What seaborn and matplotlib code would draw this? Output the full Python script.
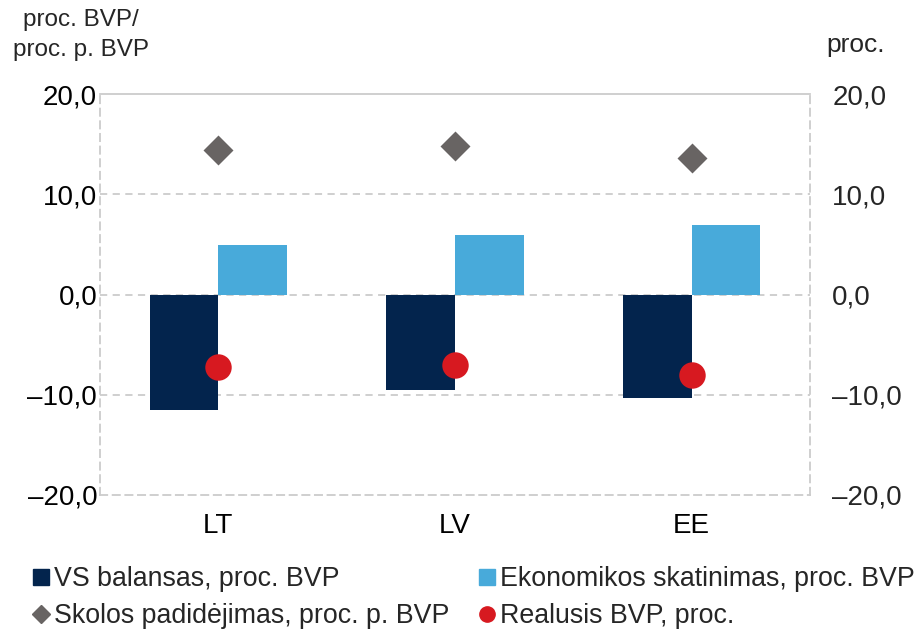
import numpy as np
import pandas as pd
import matplotlib
matplotlib.use("Agg")
import matplotlib.pyplot as plt
import seaborn as sns
from matplotlib.lines import Line2D

# ---- data ----
countries = ["LT", "LV", "EE"]
vs_balansas = [-11.5, -9.5, -10.3]
skatinimas = [4.9, 5.9, 6.9]
skola = [14.4, 14.8, 13.6]
bvp = [-7.2, -7.0, -8.0]
yticks = [-20, -10, 0, 10, 20]
ytick_labels = ["–20,0", "–10,0", "0,0", "10,0", "20,0"]
series_names = ["VS balansas, proc. BVP", "Ekonomikos skatinimas, proc. BVP",
                "Skolos padidėjimas, proc. p. BVP", "Realusis BVP, proc."]
left_label = "proc. BVP/\nproc. p. BVP"
right_label = "proc."

NAVY = "#03244D"
BLUE = "#48AADA"
GREY = "#686463"
RED = "#D71920"
GRID = "#CCCCCC"

sns.set_style("white")
plt.rcParams["font.family"] = ["Liberation Sans", "DejaVu Sans"]
FS = 20

df_bars = pd.DataFrame({
    "country": countries * 2,
    "value": vs_balansas + skatinimas,
    "series": [series_names[0]] * 3 + [series_names[1]] * 3,
})

fig = plt.figure(figsize=(9.14, 6.34), dpi=100)
ax = fig.add_axes([100 / 914, 1 - 495 / 634, 710 / 914, 401 / 634])

sns.barplot(data=df_bars, x="country", y="value", hue="series",
            palette=[NAVY, BLUE], width=0.58, gap=0, saturation=1,
            legend=False, ax=ax, zorder=2, linewidth=0)

sns.pointplot(x=countries, y=skola, marker="D", markersize=13, linestyle="none",
              color=GREY, errorbar=None, ax=ax, zorder=4)
sns.pointplot(x=countries, y=bvp, marker="o", markersize=17, linestyle="none",
              color=RED, errorbar=None, ax=ax, zorder=4)

ax.set_xlim(-0.5, 2.5)
ax.set_ylim(-20, 20)
ax.set_yticks(yticks)
ax.set_yticklabels(ytick_labels)
ax.set_xlabel("")
ax.set_ylabel("")
ax.tick_params(axis="both", length=0, labelsize=FS, colors="black")
ax.tick_params(axis="y", pad=2)
ax.tick_params(axis="x", pad=13)

for y in [-10, 0, 10]:
    ax.axhline(y, color=GRID, linestyle=(0, (4, 3)), linewidth=1.3, zorder=1)

for side in ["left", "right", "bottom"]:
    ax.spines[side].set_color(GRID)
    ax.spines[side].set_linestyle((0, (4, 3)))
    ax.spines[side].set_linewidth(1.3)
ax.spines["top"].set_color(GRID)
ax.spines["top"].set_linewidth(1.3)

ax2 = ax.twinx()
ax2.set_ylim(-20, 20)
ax2.set_yticks(yticks)
ax2.set_yticklabels(ytick_labels)
ax2.tick_params(axis="y", length=0, labelsize=FS, pad=16)
for s in ax2.spines.values():
    s.set_visible(False)

fig.text(81 / 914, 1 - 9 / 634, left_label, ha="center", va="top",
         fontsize=17.5, linespacing=1.45)
fig.text(856 / 914, 1 - 45 / 634, right_label, ha="center", va="center",
         fontsize=FS - 1)

handles = [
    Line2D([], [], marker="s", color=NAVY, linestyle="none", markersize=11),
    Line2D([], [], marker="D", color=GREY, linestyle="none", markersize=9),
    Line2D([], [], marker="s", color=BLUE, linestyle="none", markersize=11),
    Line2D([], [], marker="o", color=RED, linestyle="none", markersize=11),
]
labels = [series_names[0], series_names[2], series_names[1], series_names[3]]
fig.legend(handles, labels, loc="upper left", bbox_to_anchor=(33 / 914, 1 - 566 / 634),
           ncol=2, frameon=False, fontsize=19.3, handlelength=0.6,
           handletextpad=0.2, labelspacing=0.42, columnspacing=1.08,
           borderaxespad=0, borderpad=0)

fig.savefig("out.png", dpi=100)
